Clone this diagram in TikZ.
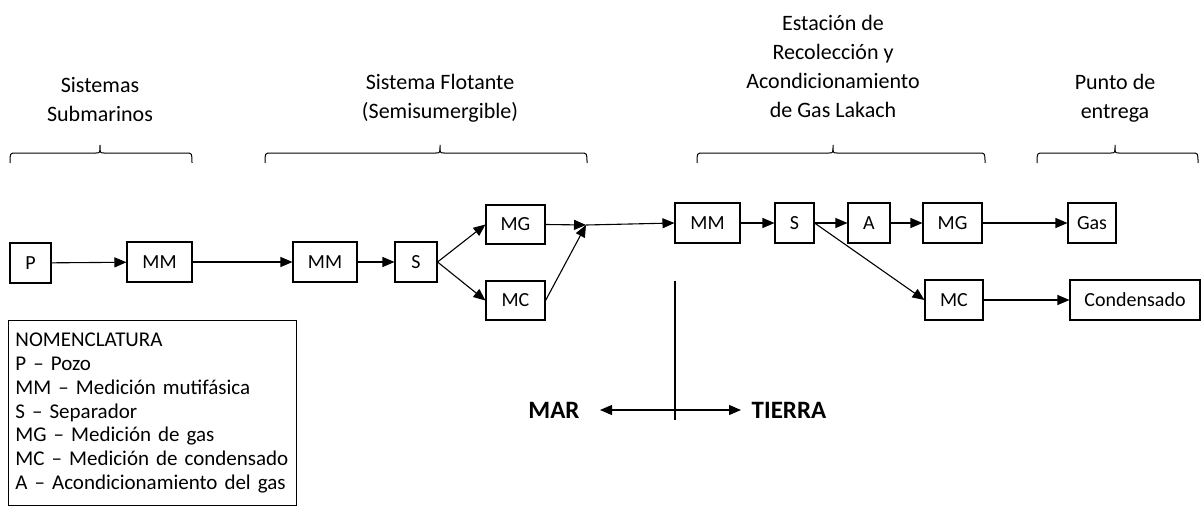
\documentclass[tikz,border=0pt]{standalone}
\usepackage{fontspec}
\setmainfont{Carlito}
\usetikzlibrary{arrows.meta}
\begin{document}
\begin{tikzpicture}[x=1pt,y=-1pt,
  box/.style={draw, line width=1.1pt, inner sep=0pt, font=\fontsize{20}{22}\selectfont},
  arr/.style={line width=1.1pt, -{Triangle[length=12pt,width=10pt]}},
  brace/.style={line width=1pt},
  ttl/.style={align=center, font=\fontsize{22}{29}\selectfont, inner sep=0pt},
  side/.style={font=\bfseries\fontsize{25}{28}\selectfont, inner sep=0pt}]
\useasboundingbox (0,0) rectangle (1201,508);
% titles
\node[ttl, anchor=south] (t1) at (100,122) {Sistemas\\Submarinos};
\node[ttl, anchor=south] (t2) at (440,122) {Sistema Flotante\\(Semisumergible)};
\node[ttl, anchor=south] (t3) at (833,118) {Estación de\\Recolección y\\Acondicionamiento\\de Gas Lakach};
\node[ttl, anchor=south] (t4) at (1115,122) {Punto de\\entrega};
% braces
\draw[brace] (10,163) .. controls (10,153) .. (16,153) -- (96,153) .. controls (100,153) .. (100,145) .. controls (100,153) .. (104,153) -- (186,153) .. controls (192,153) .. (192,163);
\draw[brace] (265,163) .. controls (265,153) .. (271,153) -- (436,153) .. controls (440,153) .. (440,145) .. controls (440,153) .. (444,153) -- (581,153) .. controls (587,153) .. (587,163);
\draw[brace] (697,163) .. controls (697,153) .. (703,153) -- (829,153) .. controls (833,153) .. (833,145) .. controls (833,153) .. (837,153) -- (979,153) .. controls (985,153) .. (985,163);
\draw[brace] (1037,163) .. controls (1037,153) .. (1043,153) -- (1111,153) .. controls (1115,153) .. (1115,145) .. controls (1115,153) .. (1119,153) -- (1192,153) .. controls (1198,153) .. (1198,163);
% boxes
\node[box, minimum width=41pt, minimum height=40pt] (P) at (30.5,263) {P};
\node[box, minimum width=65pt, minimum height=40pt] (MM1) at (159.5,262) {MM};
\node[box, minimum width=64pt, minimum height=40pt] (MM2) at (325,262) {MM};
\node[box, minimum width=42pt, minimum height=40pt] (S1) at (416,262) {S};
\node[box, minimum width=59pt, minimum height=39pt] (MG1) at (515.5,224.5) {MG};
\node[box, minimum width=59pt, minimum height=39pt] (MC1) at (515.5,300.5) {MC};
\coordinate (J) at (586,225);
\node[box, minimum width=65pt, minimum height=40pt] (MM3) at (707.5,223) {MM};
\node[box, minimum width=39pt, minimum height=40pt] (S2) at (794.5,223) {S};
\node[box, minimum width=42pt, minimum height=40pt] (A) at (869,223) {A};
\node[box, minimum width=59pt, minimum height=40pt] (MG2) at (952.5,223) {MG};
\node[box, minimum width=48pt, minimum height=40pt] (Gas) at (1092,223) {Gas};
\node[box, minimum width=58pt, minimum height=40pt] (MC2) at (954,300) {MC};
\node[box, minimum width=130pt, minimum height=40pt] (Cond) at (1135,300) {Condensado};
% connectors
\draw[arr] (P) -- (MM1);
\draw[arr] (MM1) -- (MM2);
\draw[arr] (MM2) -- (S1);
\draw[arr] (S1.east) -- (MG1.west);
\draw[arr] (S1.east) -- (MC1.west);
\draw[arr] (MG1.east) -- (J);
\draw[arr] (MC1.east) -- (J);
\draw[arr] (J) -- (MM3.west);
\draw[arr] (MM3) -- (S2);
\draw[arr] (S2) -- (A);
\draw[arr] (A) -- (MG2);
\draw[arr] (MG2) -- (Gas);
\draw[arr] (S2.east) -- (MC2.west);
\draw[arr] (MC2) -- (Cond);
% legend
\node[draw, line width=1pt, anchor=north west, text width=274pt, minimum height=185pt, inner xsep=7pt, inner ysep=8pt, align=left,
  font=\fontsize{21}{23.7}\selectfont] (leg) at (8,320)
  {NOMENCLATURA\\P – Pozo\\MM – Medición mutifásica\\S – Separador\\MG – Medición de gas\\MC – Medición de condensado\\A – Acondicionamiento del gas};
% mar / tierra
\coordinate (V1) at (675,281);
\coordinate (V2) at (675,420);
\coordinate (C) at (675,410);
\coordinate (ML) at (600,410);
\coordinate (MR) at (741,410);
\draw[line width=1.4pt] (V1) -- (V2);
\draw[arr] (C) -- (ML);
\draw[arr] (C) -- (MR);
\node[side] (mar) at (554,410) {MAR};
\node[side] (tierra) at (789,410) {TIERRA};
\end{tikzpicture}
\end{document}
